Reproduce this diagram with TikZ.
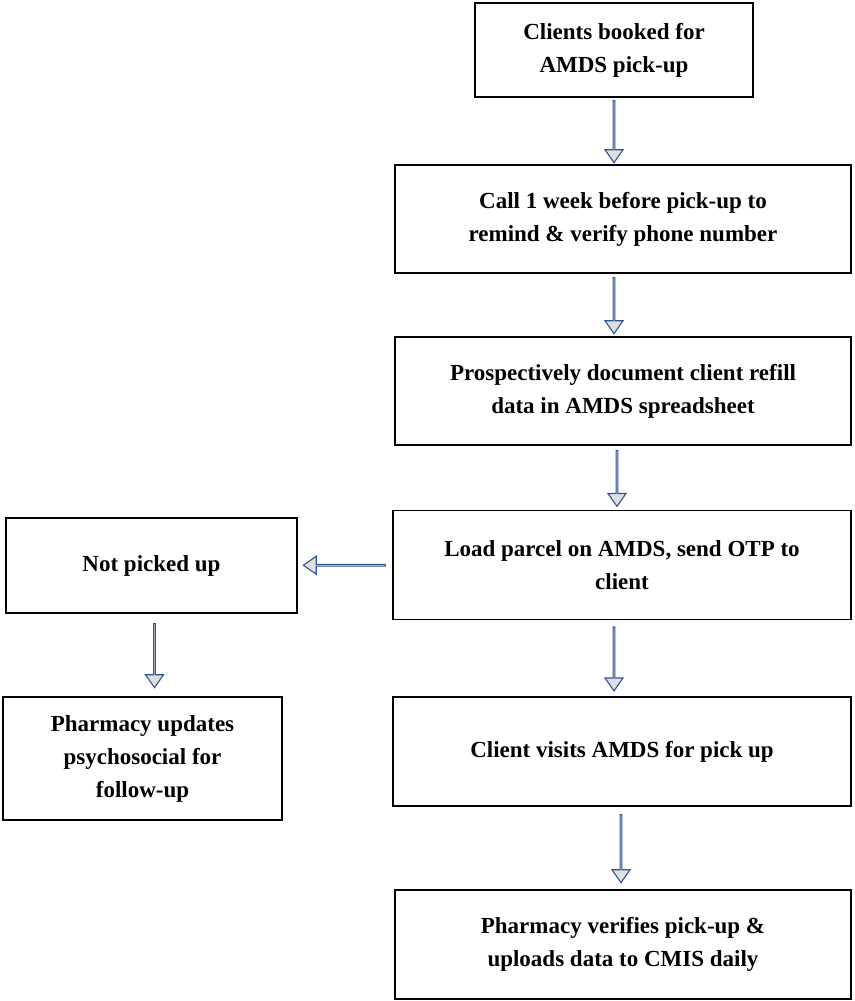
\documentclass[tikz,border=0pt]{standalone}
\usepackage{fontspec}
\setmainfont{Liberation Serif}
\usetikzlibrary{positioning,shapes.arrows}
\definecolor{arrowblue}{RGB}{47,85,151}
\tikzset{
  box/.style={draw, line width=1.3pt, align=center, inner sep=2pt,
    font=\fontsize{23}{33}\selectfont\bfseries},
  barrow/.style={single arrow, draw=arrowblue, fill=gray!25, line width=1.1pt,
    minimum width=18pt, single arrow head extend=5pt, single arrow tip angle=70,
    inner sep=0pt, anchor=center},
}
\begin{document}
\begin{tikzpicture}[x=1pt,y=-1pt]
		\useasboundingbox (0,0) rectangle (854,1001);
		\node[box, minimum width=278pt, minimum height=94pt] (booked) at (614,50) {Clients booked for\\AMDS pick-up};
		\node[box, minimum width=456pt, minimum height=108pt] (call) at (623,219) {Call 1 week before pick-up to\\remind \& verify phone number};
		\node[box, minimum width=456pt, minimum height=108pt] (document) at (623,391) {Prospectively document client refill\\data in AMDS spreadsheet};
		\node[box, minimum width=458pt, minimum height=109pt] (load) at (622,565) {Load parcel on AMDS, send OTP to\\client};
		\node[box, minimum width=291pt, minimum height=95pt] (notpicked) at (151.5,565.5) {Not picked up};
		\node[box, minimum width=279pt, minimum height=123pt] (psycho) at (142.5,758.5) {Pharmacy updates\\psychosocial for\\follow-up};
		\node[box, minimum width=458pt, minimum height=109pt] (visit) at (622,751.5) {Client visits AMDS for pick up};
		\node[box, minimum width=456pt, minimum height=109pt] (verify) at (623,944.5) {Pharmacy verifies pick-up \&\\uploads data to CMIS daily};
		% block arrows
		\path (booked.south) -- (booked.south|-call.north) node[midway, barrow, rotate=-90, minimum height=62pt] {};
		\path ([xshift=-9pt]call.south) -- ([xshift=-9pt]call.south|-document.north) node[midway, barrow, rotate=-90, minimum height=56pt] {};
		\path ([xshift=-6pt]document.south) -- ([xshift=-6pt]document.south|-load.north) node[midway, barrow, rotate=-90, minimum height=56pt] {};
		\path ([xshift=-8pt]load.south) -- ([xshift=-8pt]load.south|-visit.north) node[midway, barrow, rotate=-90, minimum height=64pt] {};
		\path ([xshift=-1pt]visit.south) -- ([xshift=-1pt]visit.south|-verify.north) node[midway, barrow, rotate=-90, minimum height=68pt] {};
		\path ([xshift=3pt]notpicked.south) -- ([xshift=3pt]notpicked.south|-psycho.north) node[midway, barrow, rotate=-90, minimum height=64pt] {};
		\path (load.west) -- (notpicked.east) node[midway, barrow, rotate=180, minimum height=82pt] {};
	\end{tikzpicture}
\end{document}
